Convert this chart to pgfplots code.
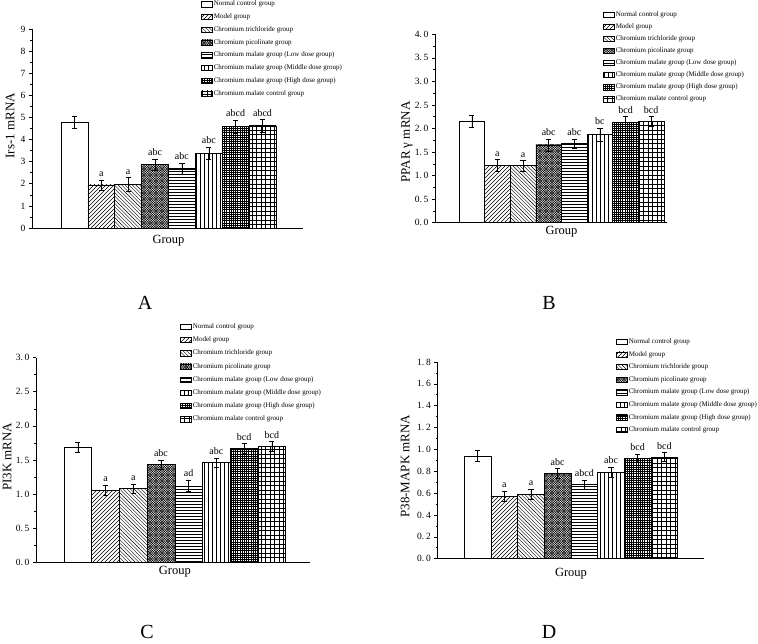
\documentclass[border=0pt]{standalone}
\usepackage{fontspec}
\setmainfont{Liberation Serif}
\usepackage{pgfplots}
\pgfplotsset{compat=1.18}
\usetikzlibrary{patterns}

% patterns
\pgfdeclarepatternformonly{pNE}{\pgfqpoint{-1pt}{-1pt}}{\pgfqpoint{5pt}{5pt}}{\pgfqpoint{4pt}{4pt}}{%
 \pgfsetlinewidth{0.4pt}\pgfpathmoveto{\pgfqpoint{0pt}{0pt}}\pgfpathlineto{\pgfqpoint{4.1pt}{4.1pt}}\pgfusepath{stroke}}
\pgfdeclarepatternformonly{pNW}{\pgfqpoint{-1pt}{-1pt}}{\pgfqpoint{5pt}{5pt}}{\pgfqpoint{3.6pt}{3.6pt}}{%
 \pgfsetlinewidth{0.4pt}\pgfpathmoveto{\pgfqpoint{0pt}{3.6pt}}\pgfpathlineto{\pgfqpoint{3.7pt}{-0.1pt}}\pgfusepath{stroke}}
\pgfdeclarepatternformonly{pX}{\pgfqpoint{-1pt}{-1pt}}{\pgfqpoint{3.5pt}{3.5pt}}{\pgfqpoint{2.4pt}{2.4pt}}{%
 \pgfsetlinewidth{0.45pt}\pgfpathmoveto{\pgfqpoint{2.4001pt}{0pt}}\pgfpathlineto{\pgfqpoint{0pt}{2.4001pt}}%
 \pgfpathmoveto{\pgfqpoint{0pt}{0pt}}\pgfpathlineto{\pgfqpoint{2.4001pt}{2.4001pt}}\pgfusepath{stroke}}
\pgfdeclarepatternformonly{pH}{\pgfpointorigin}{\pgfqpoint{100pt}{1pt}}{\pgfqpoint{100pt}{3pt}}{%
 \pgfsetlinewidth{0.4pt}\pgfpathmoveto{\pgfqpoint{0pt}{0.5pt}}\pgfpathlineto{\pgfqpoint{100pt}{0.5pt}}\pgfusepath{stroke}}
\pgfdeclarepatternformonly{pV}{\pgfpointorigin}{\pgfqpoint{1pt}{100pt}}{\pgfqpoint{4pt}{100pt}}{%
 \pgfsetlinewidth{0.4pt}\pgfpathmoveto{\pgfqpoint{0.5pt}{0pt}}\pgfpathlineto{\pgfqpoint{0.5pt}{100pt}}\pgfusepath{stroke}}
\pgfdeclarepatternformonly{pDG}{\pgfqpoint{-1pt}{-1pt}}{\pgfqpoint{3pt}{3pt}}{\pgfqpoint{2.2pt}{2.2pt}}{%
 \pgfsetlinewidth{0.45pt}\pgfpathmoveto{\pgfqpoint{0pt}{0pt}}\pgfpathlineto{\pgfqpoint{0pt}{2.3pt}}%
 \pgfpathmoveto{\pgfqpoint{0pt}{0pt}}\pgfpathlineto{\pgfqpoint{2.3pt}{0pt}}\pgfusepath{stroke}}
\pgfdeclarepatternformonly{pG}{\pgfqpoint{-1pt}{-1pt}}{\pgfqpoint{5.5pt}{5.5pt}}{\pgfqpoint{4.5pt}{4.5pt}}{%
 \pgfsetlinewidth{0.4pt}\pgfpathmoveto{\pgfqpoint{0pt}{0pt}}\pgfpathlineto{\pgfqpoint{0pt}{4.6pt}}%
 \pgfpathmoveto{\pgfqpoint{0pt}{0pt}}\pgfpathlineto{\pgfqpoint{4.6pt}{0pt}}\pgfusepath{stroke}}

\pgfplotsset{
 mybox/.style={legend image code/.code={\draw[##1] (0pt,-2.6pt) rectangle (11pt,2.6pt);}},
 panel/.style={
  scale only axis, anchor=south west,
  ybar, bar width=1, bar shift=0pt,
  axis x line*=bottom, axis y line*=left,
  axis line style={line width=0.8pt, black},
  xtick=\empty,
  ymin=0,
  tick align=outside,
  major tick length=3pt, minor tick length=1.6pt,
  minor y tick num=1,
  every tick/.style={black, line width=0.6pt},
  /pgf/number format/assume math mode=true,
  yticklabel style={font=\fontsize{9.5}{10}\selectfont},
  ylabel style={font=\fontsize{13}{15}\selectfont, anchor=center},
  xlabel style={font=\fontsize{12.5}{15}\selectfont, anchor=center, at={(axis cs:4.5,0)}},
  xlabel=Group,
  legend cell align=left,
  legend style={draw=none, fill=none, anchor=north west,
    font=\fontsize{7}{8}\selectfont, inner sep=0pt, column sep=0pt,
    nodes={inner sep=1pt, text height=5pt, text depth=1.7pt}},
  every axis plot/.append style={draw=black, line width=0.6pt},
  error bars/y dir=both, error bars/y explicit,
  error bars/error bar style={line width=0.5pt, black},
  error bars/error mark options={rotate=90, mark size=2.6pt, line width=0.5pt, black},
  clip=false,
 },
 dec/.style={yticklabel style={/pgf/number format/.cd, fixed, fixed zerofill, precision=1,
   set decimal separator={.\hspace{1.8pt}}}},
}
\tikzset{labsty/.style={font=\fontsize{10}{12}\selectfont, anchor=base, inner sep=0pt, yshift=3.5pt},
 letter/.style={font=\fontsize{20}{24}\selectfont, anchor=base, inner sep=0pt}}
\newcommand\onebar[4]{\addplot[#4, mybox] coordinates {(#1,#2) +- (0,#3)};}
\newcommand\lab[3]{\node[labsty] at (axis cs:#1,#2) {#3};}
\newcommand\allbars[8]{%
 \onebar{1}{#1}{#2}{fill=white}
 \onebar{2}{#3}{#4}{pattern=pNE}
 \onebar{3}{#5}{#6}{pattern=pNW}
 \onebar{4}{#7}{#8}{pattern=pX}}
\newcommand\morebars[8]{%
 \onebar{5}{#1}{#2}{pattern=pH}
 \onebar{6}{#3}{#4}{pattern=pV}
 \onebar{7}{#5}{#6}{pattern=pDG}
 \onebar{8}{#7}{#8}{pattern=pG}
 \legend{Normal control group,Model group,Chromium trichloride group,Chromium picolinate group,
  Chromium malate group (Low dose group),Chromium malate group (Middle dose group),
  Chromium malate group (High dose group),Chromium malate control group}}

\begin{document}
\begin{tikzpicture}
\useasboundingbox (0pt,0pt) rectangle (758pt,643pt);

% ---------- A ----------
\begin{axis}[panel, at={(32pt,415pt)}, width=271pt, height=199pt,
  xmin=-0.579, xmax=9.505, ymax=9, ytick={0,1,...,9},
  ylabel={Irs-1 mRNA},
  ylabel style={at={(axis description cs:-0.081,0.514)}},
  xlabel style={yshift=-13pt},
  legend style={at={(axis description cs:0.6236,1.1475)}, row sep=4.06pt}]
\allbars{4.78}{0.27}{1.95}{0.23}{1.98}{0.30}{2.88}{0.25}
\morebars{2.67}{0.25}{3.38}{0.27}{4.58}{0.30}{4.62}{0.28}
\lab{2}{2.18}{a}\lab{3}{2.28}{a}\lab{4}{3.13}{abc}\lab{5}{2.92}{abc}
\lab{6}{3.65}{abc}\lab{7}{4.88}{abcd}\lab{8}{4.90}{abcd}
\end{axis}

% ---------- B ----------
\begin{axis}[panel, dec, at={(435pt,420.3pt)}, width=232pt, height=188.4pt,
  xmin=-0.4375, xmax=8.617, ymax=4, ytick={0,0.5,...,4.01},
  ylabel={PPAR γ mRNA},
  ylabel style={at={(axis description cs:-0.121,0.428)}},
  xlabel style={yshift=-9pt},
  legend style={at={(axis description cs:0.724,1.1271)}, row sep=3.35pt}]
\allbars{2.15}{0.13}{1.22}{0.12}{1.21}{0.11}{1.65}{0.13}
\morebars{1.68}{0.09}{1.87}{0.14}{2.13}{0.12}{2.15}{0.10}
\lab{2}{1.34}{a}\lab{3}{1.32}{a}\lab{4}{1.78}{abc}\lab{5}{1.77}{abc}
\lab{6}{2.01}{bc}\lab{7}{2.25}{bcd}\lab{8}{2.25}{bcd}
\end{axis}

% ---------- C ----------
\begin{axis}[panel, dec, at={(36pt,80.7pt)}, width=274pt, height=204.6pt,
  xmin=-0.51, xmax=9.377, ymax=3, ytick={0,0.5,...,3.01},
  ylabel={PI3K mRNA},
  ylabel style={at={(axis description cs:-0.105,0.516)}},
  xlabel style={yshift=-9.4pt},
  legend style={at={(axis description cs:0.5255,1.1728)}, row sep=4.5pt}]
\allbars{1.69}{0.07}{1.06}{0.07}{1.08}{0.07}{1.43}{0.07}
\morebars{1.12}{0.08}{1.46}{0.07}{1.67}{0.07}{1.70}{0.07}
\lab{2}{1.13}{a}\lab{3}{1.15}{a}\lab{4}{1.50}{abc}\lab{5}{1.20}{ad}
\lab{6}{1.53}{abc}\lab{7}{1.74}{bcd}\lab{8}{1.77}{bcd}
\end{axis}

% ---------- D ----------
\begin{axis}[panel, dec, at={(437.3pt,84.3pt)}, width=266.7pt, height=196.7pt,
  xmin=-0.512, xmax=9.486, ymax=1.8, ytick={0,0.2,...,1.81},
  ylabel={P38-MAPK mRNA},
  ylabel style={at={(axis description cs:-0.121,0.47)}},
  xlabel style={yshift=-15.3pt},
  legend style={at={(axis description cs:0.670,1.1253)}, row sep=3.9pt}]
\allbars{0.94}{0.05}{0.57}{0.045}{0.59}{0.045}{0.78}{0.045}
\morebars{0.68}{0.04}{0.79}{0.045}{0.92}{0.04}{0.93}{0.04}
\lab{2}{0.615}{a}\lab{3}{0.635}{a}\lab{4}{0.825}{abc}\lab{5}{0.72}{abcd}
\lab{6}{0.835}{abc}\lab{7}{0.96}{bcd}\lab{8}{0.97}{bcd}
\end{axis}

\node[letter] at (145pt,333pt) {A};
\node[letter] at (549pt,333pt) {B};
\node[letter] at (147pt,5pt) {C};
\node[letter] at (549pt,5pt) {D};
\end{tikzpicture}
\end{document}
